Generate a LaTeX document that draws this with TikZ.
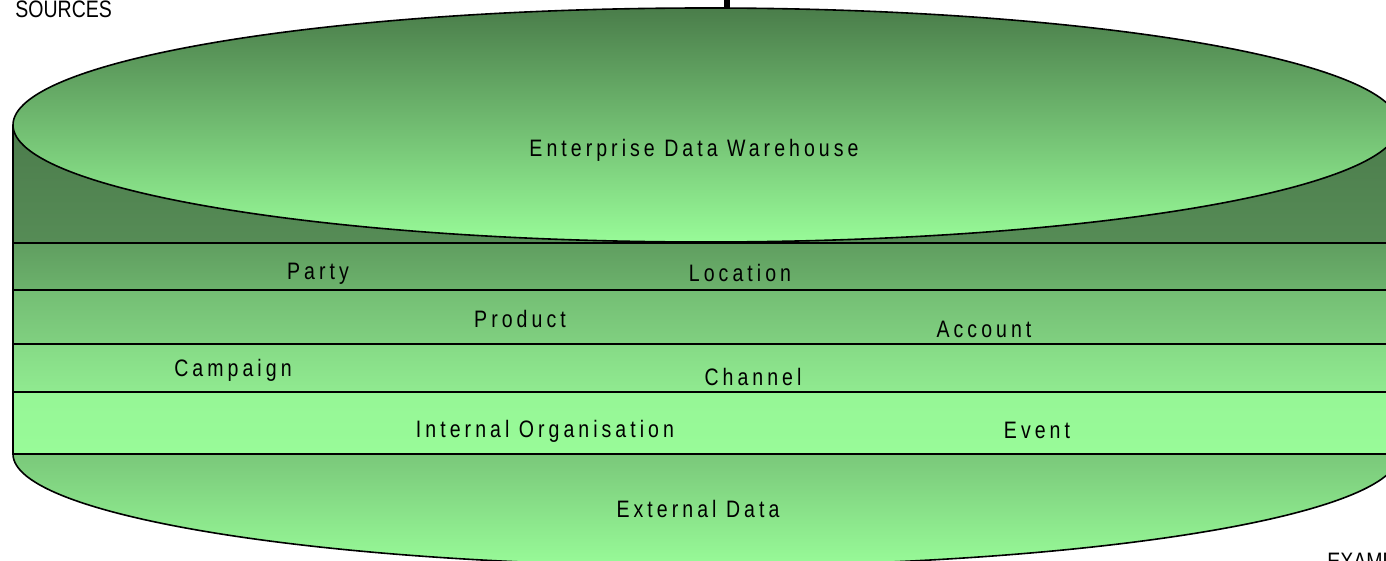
\documentclass[tikz,border=0pt]{standalone}
\usepackage{fontspec}
\setmainfont{Liberation Sans}[FakeStretch=0.82, LetterSpace=17]
\newfontfamily\tightfont{Liberation Sans}[FakeStretch=0.82]
\usepackage{xcolor}
\definecolor{edwDark}{RGB}{74, 125, 74}
\definecolor{edwLight}{RGB}{152, 251, 152}
\definecolor{sideTop}{RGB}{76, 124, 76}
\definecolor{sideBot}{RGB}{86, 140, 86}
\definecolor{bandA}{RGB}{96, 158, 96}
\definecolor{bandB}{RGB}{108, 178, 108}
\definecolor{bandC}{RGB}{116, 190, 116}
\definecolor{bandD}{RGB}{128, 208, 128}
\definecolor{bandE}{RGB}{134, 218, 134}
\definecolor{bandF}{RGB}{144, 234, 144}
\definecolor{bandG}{RGB}{150, 246, 150}
\definecolor{capTop}{RGB}{122, 200, 122}
\usepackage{tikz}

\begin{document}
\begin{tikzpicture}[x=0.5pt, y=-0.5pt,
    outline/.style={draw=black, line width=0.8pt},
    band/.style 2 args={outline, top color=#1, bottom color=#2},
    lbl/.style={anchor=base, inner sep=0pt, font=\fontsize{11.9}{14}\selectfont},
    tag/.style={inner sep=0pt, font=\tightfont\fontsize{11.9}{14}\selectfont}
]
\useasboundingbox (0,0) rectangle (1386,561);
\clip (0,0) rectangle (1386,561);

\path[band={capTop}{edwLight}] (13,454) arc[start angle=180, end angle=360, x radius=346.5pt, y radius=56pt] -- cycle;
\path[top color=sideTop, bottom color=sideBot] (13,125) rectangle (1399,243);
\path[band={bandA}{bandB}] (13,243) rectangle (1399,290);
\path[band={bandC}{bandD}] (13,290) rectangle (1399,344);
\path[band={bandE}{bandF}] (13,344) rectangle (1399,392);
\path[band={bandG}{edwLight}] (13,392) rectangle (1399,454);
\draw[outline] (13,125) -- (13,454);
\draw[outline, top color=edwDark, bottom color=edwLight] (706,125) ellipse[x radius=346.5pt, y radius=58.5pt];

\coordinate (feed) at (727,0);
\coordinate (feedEnd) at (727,9);
\draw[line width=3pt] (feed) -- (feedEnd);

\node[lbl] (edw) at (694,157) {Enterprise Data Warehouse};
\node[lbl] (party) at (318,279) {Party};
\node[lbl] (location) at (740,282) {Location};
\node[lbl] (product) at (520,327) {Product};
\node[lbl] (account) at (984,337) {Account};
\node[lbl] (campaign) at (233,376) {Campaign};
\node[lbl] (channel) at (753,385) {Channel};
\node[lbl] (intorg) at (545,437) {Internal Organisation};
\node[lbl] (event) at (1037,438) {Event};
\node[lbl] (extdata) at (698,517) {External Data};

\node[tag, anchor=base west] (sources) at (15,18) {SOURCES};
\node[tag, anchor=north west] (example) at (1327,553) {EXAMP};

\end{tikzpicture}
\end{document}
